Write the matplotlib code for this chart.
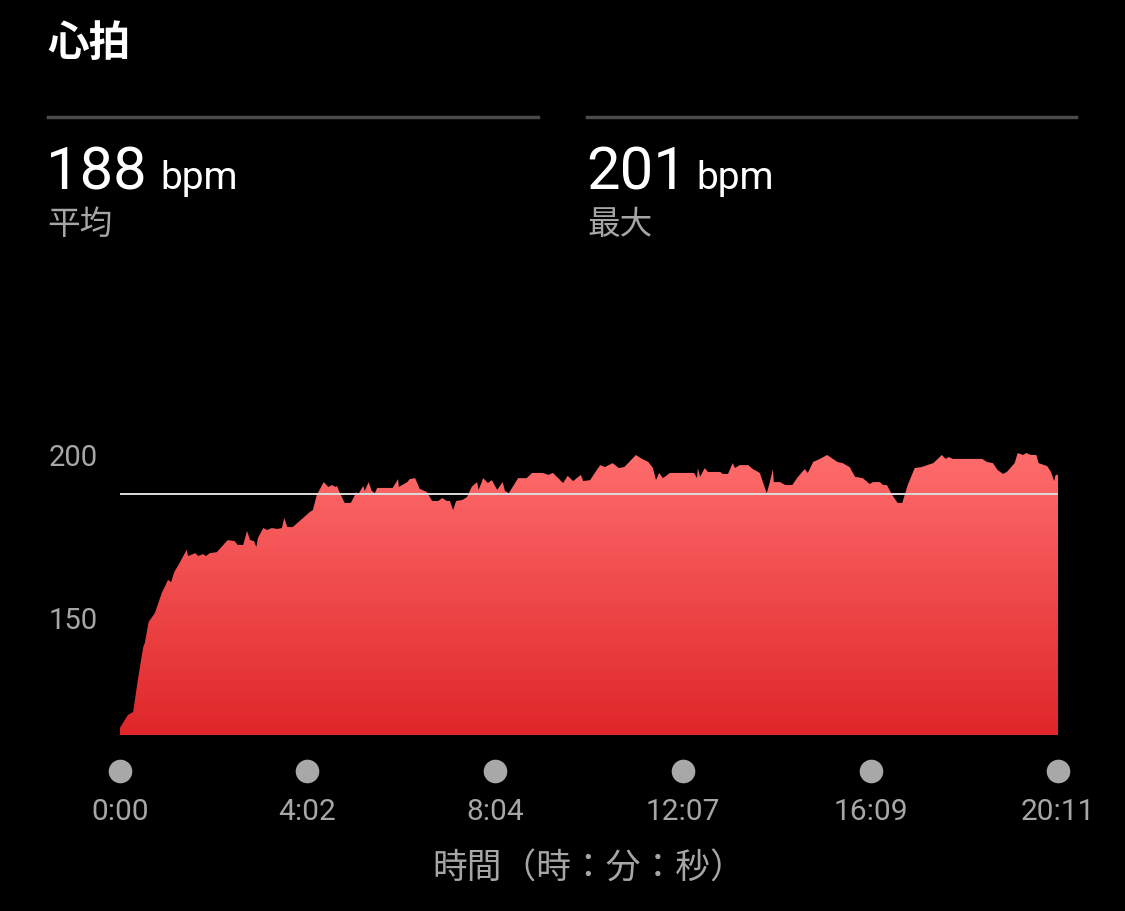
import numpy as np
import matplotlib
matplotlib.use("Agg")
import matplotlib.pyplot as plt
from matplotlib.colors import LinearSegmentedColormap

# heart rate trace (seconds from start, bpm)
time_s = [0, 10, 17, 23, 30, 32, 37, 45, 54, 62, 66, 70, 77, 86, 88, 97, 101, 107, 111, 116,
          125, 139, 148, 152, 159, 164, 168, 173, 176, 178, 185, 190, 196, 203, 209, 212, 216, 223,
          235, 245, 249, 254, 263, 269, 274, 278, 280, 284, 290, 298, 302, 305, 307, 314, 316, 321,
          325, 329, 332, 352, 359, 360, 371, 374, 381, 387, 396, 403, 411, 416, 422, 426, 430, 434,
          442, 448, 454, 461, 463, 469, 475, 480, 487, 494, 497, 502, 514, 525, 532, 546, 553, 559,
          564, 572, 578, 585, 595, 598, 607, 613, 620, 626, 636, 644, 651, 656, 666, 674, 682, 688,
          692, 696, 701, 710, 741, 745, 746, 749, 755, 759, 775, 778, 785, 791, 794, 800, 811, 817,
          826, 830, 835, 839, 843, 844, 852, 859, 868, 874, 884, 888, 895, 901, 913, 926, 933, 942,
          949, 959, 968, 972, 981, 985, 990, 997, 1004, 1010, 1013, 1017, 1026, 1035, 1042, 1050,
          1061, 1066, 1070, 1075, 1113, 1119, 1127, 1133, 1140, 1145, 1155, 1159, 1166, 1170, 1176,
          1183, 1186, 1197, 1202, 1206, 1208, 1211]
heart_rate = [116.3, 120.2, 121.2, 131.0, 141.1, 142.3, 148.8, 151.5, 157.7, 161.7, 161.0, 164.1,
              166.9, 170.9, 169.0, 169.9, 169.0, 169.6, 169.0, 169.9, 170.2, 173.9, 173.6, 172.4,
              172.4, 176.7, 173.9, 173.6, 171.8, 174.5, 177.6, 177.0, 177.6, 177.3, 177.6, 180.7,
              177.9, 177.9, 180.4, 182.5, 183.1, 187.7, 191.7, 190.2, 190.8, 190.2, 190.5, 188.3,
              185.3, 185.3, 187.1, 188.7, 187.7, 190.5, 189.0, 191.7, 189.0, 188.3, 189.9, 189.9,
              192.6, 190.2, 191.7, 192.6, 192.9, 189.6, 188.7, 185.9, 185.9, 186.8, 185.9, 185.9,
              183.1, 185.9, 186.2, 187.1, 190.2, 191.7, 189.3, 192.9, 191.4, 192.3, 189.3, 191.7,
              189.0, 188.3, 192.9, 192.9, 194.5, 194.5, 193.9, 194.5, 193.3, 191.4, 193.6, 192.0,
              193.9, 192.0, 192.3, 194.5, 196.9, 196.3, 197.5, 196.0, 196.3, 197.5, 200.0, 198.8,
              197.9, 196.0, 192.3, 194.5, 192.9, 194.5, 194.5, 192.9, 196.0, 193.3, 196.0, 194.8,
              194.8, 194.2, 194.2, 197.5, 196.0, 196.9, 196.9, 195.7, 194.5, 191.7, 188.3, 191.7,
              195.7, 191.7, 191.7, 190.8, 190.8, 192.9, 195.7, 194.5, 197.9, 198.5, 200.0, 197.9,
              197.5, 196.3, 193.3, 192.9, 191.1, 191.7, 191.7, 190.8, 190.8, 187.7, 185.3, 185.3,
              187.7, 190.8, 196.0, 196.3, 196.9, 197.5, 200.0, 198.8, 199.4, 198.8, 198.8, 197.9,
              197.5, 195.4, 194.2, 194.8, 197.5, 200.6, 200.0, 200.6, 200.0, 200.0, 197.5, 196.6,
              194.8, 192.0, 193.9, 193.9]

avg_bpm = 188
max_bpm = 201
x_ticks = [0, 242, 484, 727, 969, 1211]
x_tick_labels = ["0:00", "4:02", "8:04", "12:07", "16:09", "20:11"]
y_ticks = [150, 200]

W, H = 1125, 911
JP = ["Noto Sans CJK JP", "DejaVu Sans"]
NUM = ["Roboto", "Noto Sans CJK JP"]
GRAY = "#a6a6a6"

fig = plt.figure(figsize=(W / 100, H / 100), dpi=100, facecolor="black")


def fx(px):
    return px / W


def fy(py):
    return 1 - py / H


# header
fig.text(fx(47), fy(44), "心拍", color="white", fontsize=30, fontweight="bold",
         family=JP, va="center", ha="left")
for x0, x1 in [(48, 538), (587, 1076)]:
    fig.add_artist(plt.Line2D([fx(x0), fx(x1)], [fy(117), fy(117)], color="#4a4a4a", lw=2.5))

fig.text(fx(46), fy(189), str(avg_bpm), color="white", fontsize=43, family=NUM, va="baseline")
fig.text(fx(160), fy(189), "bpm", color="white", fontsize=28, family=NUM, va="baseline")
fig.text(fx(47), fy(225), "平均", color=GRAY, fontsize=23.5, family=JP, va="center")
fig.text(fx(586), fy(189), str(max_bpm), color="white", fontsize=43, family=NUM, va="baseline")
fig.text(fx(696), fy(189), "bpm", color="white", fontsize=28, family=NUM, va="baseline")
fig.text(fx(587), fy(225), "最大", color=GRAY, fontsize=23.5, family=JP, va="center")

# chart area
ax_left, ax_right, ax_bot, ax_top = 120, 1058, 735, 400
ax = fig.add_axes([fx(ax_left), fy(ax_bot), (ax_right - ax_left) / W, (ax_bot - ax_top) / H])
ax.set_facecolor("black")
ymin = 200 - (ax_bot - 455) / 3.26
ymax = 200 - (ax_top - 455) / 3.26
ax.set_xlim(0, 1211)
ax.set_ylim(ymin, ymax)
for s in ax.spines.values():
    s.set_visible(False)

# gradient fill under the curve
poly = ax.fill_between(time_s, heart_rate, ymin, color="none", lw=0)
cmap = LinearSegmentedColormap.from_list("hr", ["#df2629", "#ff6d6d"])
grad = np.linspace(0, 1, 256).reshape(-1, 1)
im = ax.imshow(grad, cmap=cmap, origin="lower", aspect="auto",
               extent=[0, 1211, ymin, 201], zorder=1)
im.set_clip_path(poly.get_paths()[0], transform=ax.transData)

ax.axhline(avg_bpm, color="#dcdcdc", lw=1.4, zorder=3)

ax.set_yticks(y_ticks)
ax.set_yticklabels([str(v) for v in y_ticks], family=NUM, fontsize=21, color=GRAY)
ax.tick_params(axis="y", length=0, pad=16)

ax.set_xticks(x_ticks)
ax.set_xticklabels(x_tick_labels, family=NUM, fontsize=21.5, color=GRAY)
ax.tick_params(axis="x", length=0, pad=45)

# tick dots
ax.plot(x_ticks, [-0.1075] * len(x_ticks), "o", color="#a8a8a8", ms=17, mew=0,
        transform=ax.get_xaxis_transform(), clip_on=False)

ax.set_xlabel("時間（時：分：秒）", family=JP, fontsize=25, color=GRAY, labelpad=19)

fig.savefig("out.png", dpi=100, facecolor="black")
